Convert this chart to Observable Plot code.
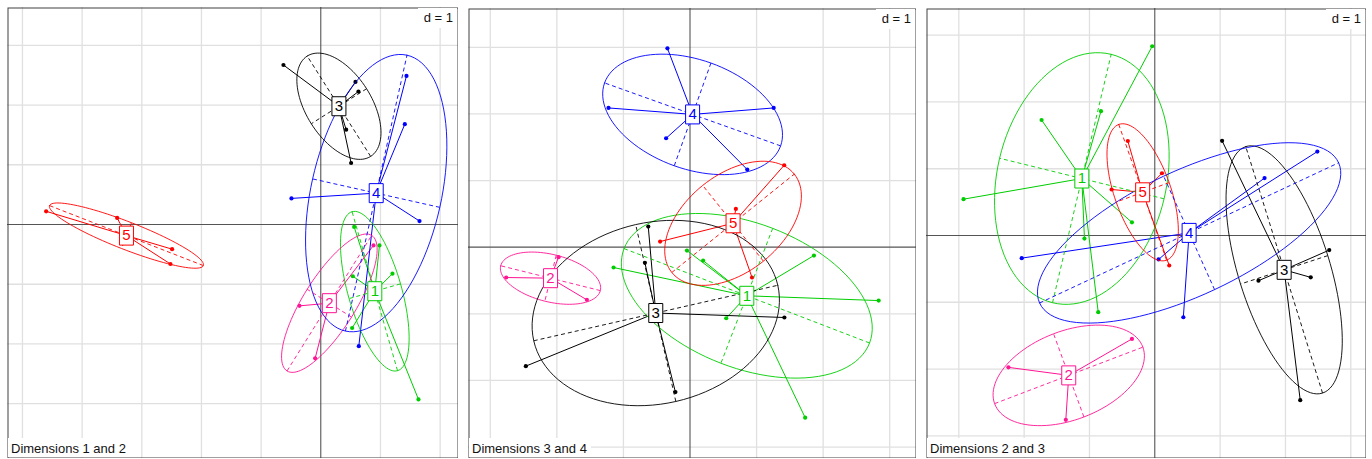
<!DOCTYPE html>
<html>
<head>
<meta charset="utf-8">
<script src="https://cdn.jsdelivr.net/npm/d3@7"></script>
<script src="https://cdn.jsdelivr.net/npm/@observablehq/plot@0.6"></script>
<style>
  html, body { margin: 0; padding: 0; background: #fff; }
  body { position: relative; width: 1372px; height: 459px; overflow: hidden; font-family: "Liberation Sans", Arial, sans-serif; }
  .panel { position: absolute; }
  .tag { position: absolute; background: #fff; font-size: 13px; line-height: 15px; color: #111; white-space: nowrap; }
</style>
</head>
<body>
<script>
// ---------------- data ----------------
const groups = ["1", "2", "3", "4", "5"];
const groupColors = ["#00cd00", "#ff1493", "#000000", "#0000ff", "#ff0000"];
const memberGroup = ["1","1","1","1","1","1","1", "2","2","2", "3","3","3","3","3", "4","4","4","4","4", "5","5","5","5"];
const dim1 = [0.559, 0.983, 1.201, 0.536, 0.525, 1.637, 0.894,  0.883, -0.358, -0.095,  -0.626, 0.581, 0.631, 0.425, 0.508,  1.436, 1.408, -0.492, 1.654, 0.637,  -4.603, -3.413, -2.492, -2.520];
const dim2 = [-0.040, -0.350, -0.824, -0.866, -1.733, -2.928, -1.077,  -0.350, -1.362, -2.240,  2.670, 2.387, 2.226, 1.587, 1.030,  2.488, 1.680, 0.437, 0.058, -2.037,  0.221, 0.110, -0.413, -0.661];
const dim3 = [2.834, 0.197, 1.862, -1.148, 1.730, 0.544, -0.046,  -1.549, -2.761, -1.975,  -0.219, -0.627, -2.466, -0.677, 1.418,  1.257, 0.860, -1.224, -0.359, -0.339,  -0.449, 0.932, 1.415, 0.689];
const dim4 = [-0.801, -0.200, -0.125, -0.305, -2.558, -1.066, -0.050,  -0.790, -0.455, -0.150,  -2.175, 0.310, -1.785, -0.235, -1.055,  2.090, 1.165, 2.090, 1.635, 2.985,  0.085, -0.455, 1.230, 0.575];
const panelDims = [[1, 2], [3, 4], [2, 3]];
const panelTitles = ["Dimensions 1 and 2", "Dimensions 3 and 4", "Dimensions 2 and 3"];
const gridLabel = "d = 1";
const ellipseCoef = 1.5;

// ---------------- layout (page pixels) ----------------
const layout = [
  {left: 7,   top: 7, width: 451, height: 451, ox: 320.3,  oy: 224.0, ux: 59.67, uy: 59.73},
  {left: 468, top: 8, width: 448, height: 450, ox: 689.5,  oy: 246.7, ux: 66.57, uy: 66.63},
  {left: 926, top: 8, width: 440, height: 450, ox: 1154.3, oy: 235.0, ux: 65.33, uy: 66.77}
];

const dims = [dim1, dim2, dim3, dim4];
const boxSymbol = {
  draw(ctx) {
    ctx.moveTo(-7, -9.5); ctx.lineTo(7, -9.5); ctx.lineTo(7, 9.5); ctx.lineTo(-7, 9.5); ctx.closePath();
  }
};

function classGeometry(p) {
  const [a, b] = panelDims[p];
  const X = dims[a - 1], Y = dims[b - 1];
  const pts = memberGroup.map((g, i) => ({g, x: X[i], y: Y[i]}));
  const cents = [], stars = [], ell = [], axes = [];
  for (const g of groups) {
    const gp = pts.filter(d => d.g === g);
    const mx = d3.mean(gp, d => d.x), my = d3.mean(gp, d => d.y);
    const vx = d3.mean(gp, d => (d.x - mx) ** 2);
    const vy = d3.mean(gp, d => (d.y - my) ** 2);
    const cxy = d3.mean(gp, d => (d.x - mx) * (d.y - my));
    const delta = Math.sqrt((vx - vy) ** 2 + 4 * cxy * cxy);
    const l1 = (vx + vy + delta) / 2, l2 = Math.max(0, vx + vy - l1);
    let ex, ey;
    if (Math.abs(cxy) > 1e-12) { ex = cxy; ey = l1 - vx; }
    else if (vx >= vy) { ex = 1; ey = 0; } else { ex = 0; ey = 1; }
    const nrm = Math.hypot(ex, ey); ex /= nrm; ey /= nrm;
    const fx = -ey, fy = ex;
    const r1 = ellipseCoef * Math.sqrt(l1), r2 = ellipseCoef * Math.sqrt(l2);
    for (let k = 0; k <= 100; k++) {
      const t = 2 * Math.PI * k / 100;
      ell.push({g, x: mx + r1 * Math.cos(t) * ex + r2 * Math.sin(t) * fx,
                   y: my + r1 * Math.cos(t) * ey + r2 * Math.sin(t) * fy});
    }
    axes.push({g, x1: mx - r1 * ex, y1: my - r1 * ey, x2: mx + r1 * ex, y2: my + r1 * ey});
    axes.push({g, x1: mx - r2 * fx, y1: my - r2 * fy, x2: mx + r2 * fx, y2: my + r2 * fy});
    for (const d of gp) stars.push({g, x1: mx, y1: my, x2: d.x, y2: d.y});
    cents.push({g, x: mx, y: my});
  }
  return {pts, cents, stars, ell, axes};
}

layout.forEach((L, p) => {
  const xd = [(L.left - L.ox) / L.ux, (L.left + L.width - L.ox) / L.ux];
  const yd = [(L.oy - (L.top + L.height)) / L.uy, (L.oy - L.top) / L.uy];
  const xTicks = d3.range(Math.ceil(xd[0]), Math.floor(xd[1]) + 1).filter(v => v !== 0);
  const yTicks = d3.range(Math.ceil(yd[0]), Math.floor(yd[1]) + 1).filter(v => v !== 0);
  const G = classGeometry(p);
  const chart = Plot.plot({
    width: L.width, height: L.height, margin: 0,
    x: {domain: xd, axis: null},
    y: {domain: yd, axis: null},
    color: {type: "ordinal", domain: groups, range: groupColors},
    style: {background: "white", fontFamily: "Liberation Sans, Arial, sans-serif", overflow: "hidden"},
    marks: [
      Plot.ruleX(xTicks, {stroke: "#e0e0e0", strokeWidth: 1.3}),
      Plot.ruleY(yTicks, {stroke: "#e0e0e0", strokeWidth: 1.3}),
      Plot.ruleX([0], {stroke: "#444", strokeWidth: 1}),
      Plot.ruleY([0], {stroke: "#555", strokeWidth: 1.2}),
      Plot.dot(G.pts, {x: "x", y: "y", fill: "g", r: 2.1}),
      Plot.link(G.stars, {x1: "x1", y1: "y1", x2: "x2", y2: "y2", stroke: "g", strokeWidth: 1}),
      Plot.line(G.ell, {x: "x", y: "y", z: "g", stroke: "g", strokeWidth: 0.9}),
      Plot.link(G.axes, {x1: "x1", y1: "y1", x2: "x2", y2: "y2", stroke: "g", strokeWidth: 0.9, strokeDasharray: "4,3"}),
      Plot.dot(G.cents, {x: "x", y: "y", symbol: boxSymbol, fill: "white", stroke: "g", strokeWidth: 1}),
      Plot.text(G.cents, {x: "x", y: "y", text: "g", fill: "g", fontSize: 15}),
      Plot.frame({stroke: "#404040", inset: 0.5})
    ]
  });
  const wrap = document.createElement("div");
  wrap.className = "panel";
  wrap.style.left = L.left + "px";
  wrap.style.top = L.top + "px";
  wrap.appendChild(chart);
  document.body.appendChild(wrap);

  const dTag = document.createElement("div");
  dTag.className = "tag";
  dTag.textContent = gridLabel;
  dTag.style.right = (1372 - (L.left + L.width - 1)) + "px";
  dTag.style.top = (L.top + 1) + "px";
  dTag.style.padding = "2px 4px 3px 6px";
  document.body.appendChild(dTag);

  const sTag = document.createElement("div");
  sTag.className = "tag";
  sTag.textContent = panelTitles[p];
  sTag.style.left = (L.left + 1) + "px";
  sTag.style.top = (L.top + L.height - 20) + "px";
  sTag.style.padding = "3px 4px 1px 3px";
  document.body.appendChild(sTag);
});
</script>
</body>
</html>
